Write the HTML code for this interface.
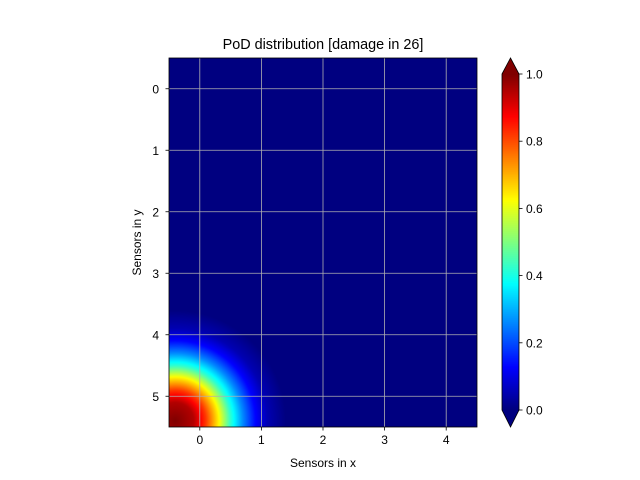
<!DOCTYPE html>
<html><head><meta charset="utf-8"><style>
body{margin:0;background:#fff;}
#wrap{position:relative;width:640px;height:480px;font-family:"Liberation Sans",sans-serif;}
svg text{font-family:"Liberation Sans",sans-serif;}
</style></head><body>
<div id="wrap">
<canvas id="heat" width="308" height="369" style="position:absolute;left:169px;top:58px"></canvas>
<canvas id="cbar" width="17" height="336" style="position:absolute;left:502px;top:74px"></canvas>
<svg id="svg" width="640" height="480" style="position:absolute;left:0;top:0"></svg>
</div>
<script>
// data
const xTicks=[0,1,2,3,4];
const yTicks=[0,1,2,3,4,5];
const cbTicks=[0.0,0.2,0.4,0.6,0.8,1.0];
const blobCenter=[-0.4,5.4];
const profileDist=[0,0.3,0.5,0.7,0.9,1.1,1.3,1.5,1.8,3];
const profileVal=[1,0.95,0.82,0.64,0.42,0.26,0.13,0.05,0,0];

const X0=169,X1=477,Y0=58,Y1=427;
const xs=v=>X0+(v+0.5)/5*(X1-X0);
const ys=v=>Y0+(v+0.5)/6*(Y1-Y0);
function jet(t){t=Math.max(0,Math.min(1,t));
 const f=(a)=>Math.max(0,Math.min(1,1.5-Math.abs(4*t-a)));
 return [f(3)*255,f(2)*255,f(1)*255];}
function prof(d){for(let i=0;i<profileDist.length-1;i++){if(d<=profileDist[i+1]){const u=(d-profileDist[i])/(profileDist[i+1]-profileDist[i]);return profileVal[i]+u*(profileVal[i+1]-profileVal[i]);}}return 0;}
const hc=document.getElementById('heat').getContext('2d');
const im=hc.createImageData(308,369);
for(let py=0;py<369;py++)for(let px=0;px<308;px++){
 const x=-0.5+(px+0.5)/308*5, y=-0.5+(py+0.5)/369*6;
 const d=Math.hypot(x-blobCenter[0],y-blobCenter[1]);
 const c=jet(prof(d));const k=(py*308+px)*4;
 im.data[k]=c[0];im.data[k+1]=c[1];im.data[k+2]=c[2];im.data[k+3]=255;}
hc.putImageData(im,0,0);
const cc=document.getElementById('cbar').getContext('2d');
for(let py=0;py<336;py++){const c=jet(1-py/335);cc.fillStyle=`rgb(${c[0]|0},${c[1]|0},${c[2]|0})`;cc.fillRect(0,py,17,1);}
const svg=document.getElementById('svg');const NS='http://www.w3.org/2000/svg';
function mk(t,a,txt){const e=document.createElementNS(NS,t);for(const k in a)e.setAttribute(k,a[k]);if(txt!==undefined)e.textContent=txt;svg.appendChild(e);return e;}
xTicks.forEach(v=>{const x=xs(v);
 let g=mk('line',{x1:x,x2:x,y1:Y0,y2:Y1,stroke:'#b0b0b0','stroke-width':0.8});
 
 
 mk('line',{x1:x,x2:x,y1:Y1,y2:Y1+3.5,stroke:'#000','stroke-width':0.8});
 let t=mk('text',{x:x,y:Y1+17,'text-anchor':'middle','font-size':12},v);
 
 });
yTicks.forEach(v=>{const y=ys(v);
 let g=mk('line',{x1:X0,x2:X1,y1:y,y2:y,stroke:'#b0b0b0','stroke-width':0.8});
 
 
 mk('line',{x1:X0-3.5,x2:X0,y1:y,y2:y,stroke:'#000','stroke-width':0.8});
 let t=mk('text',{x:X0-10,y:y+4.5,'text-anchor':'end','font-size':12},v);
 
 });
mk('rect',{x:X0,y:Y0,width:X1-X0,height:Y1-Y0,fill:'none',stroke:'#000','stroke-width':0.8});
// colorbar extensions
const CB0=502,CB1=519,CT=74,CBm=410;
let up=mk('polygon',{points:`${CB0},${CT} ${CB1},${CT} ${(CB0+CB1)/2},58`,fill:'rgb(128,0,0)'});


let dn=mk('polygon',{points:`${CB0},${CBm} ${CB1},${CBm} ${(CB0+CB1)/2},427`,fill:'rgb(0,0,128)'});


mk('polygon',{points:`${CB0},${CT} ${(CB0+CB1)/2},58 ${CB1},${CT} ${CB1},${CBm} ${(CB0+CB1)/2},427 ${CB0},${CBm}`,fill:'none',stroke:'#000','stroke-width':0.8});
cbTicks.forEach(v=>{const y=CBm-(CBm-CT)*v;
 mk('line',{x1:CB1,x2:CB1+3.5,y1:y,y2:y,stroke:'#000','stroke-width':0.8});
 let t=mk('text',{x:CB1+7,y:y+4.5,'font-size':12},v.toFixed(1));
 
 });
let ti=mk('text',{x:(X0+X1)/2,y:49,'text-anchor':'middle','font-size':14.4},'PoD distribution [damage in 26]');


let xl=mk('text',{x:(X0+X1)/2,y:467,'text-anchor':'middle','font-size':12},'Sensors in x');


let yl=mk('text',{x:141,y:(Y0+Y1)/2,'text-anchor':'middle','font-size':12,transform:`rotate(-90 141 ${(Y0+Y1)/2})`},'Sensors in y');


</script>
</body></html>
